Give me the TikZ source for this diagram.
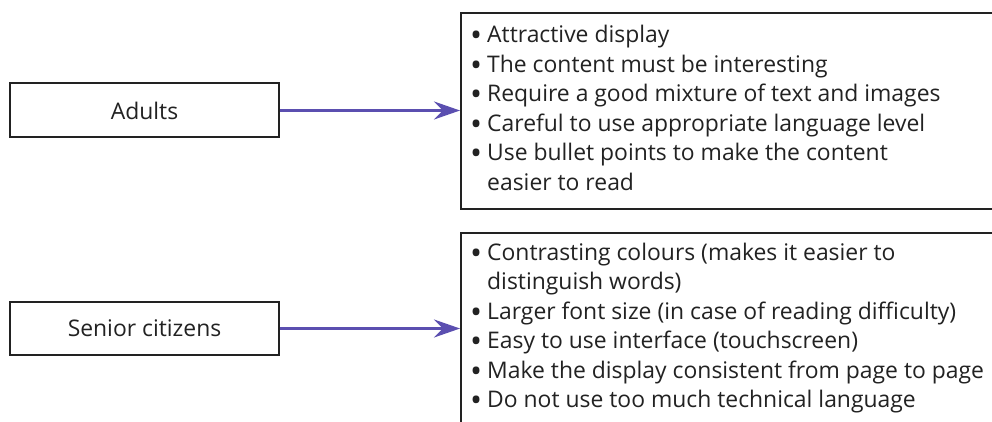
\documentclass[tikz,border=0pt]{standalone}
\usepackage{fontspec}
\setmainfont{Open Sans}
\usetikzlibrary{arrows.meta}
\definecolor{arr}{HTML}{5B4FB0}
\definecolor{ink}{HTML}{222222}
\newcommand{\bul}{\makebox[17pt][l]{\raisebox{-4pt}{\fontsize{32}{29.5}\selectfont\textbullet}}}
\begin{document}
\begin{tikzpicture}[x=1pt,y=-1pt,
  box/.style={draw=ink, line width=2pt, rectangle, inner sep=0pt},
  lbl/.style={font=\fontsize{22.9}{29.5}\selectfont, text=ink, inner sep=0pt},
  conn/.style={draw=arr, line width=2.5pt, -{Stealth[length=26pt, width=18pt, inset=9pt]}}]
\path[use as bounding box, clip] (0,0) rectangle (992,422);
\fill[white] (0,0) rectangle (992,422);
% left boxes
\node[box, minimum width=269pt, minimum height=54pt, lbl] (a) at (144.5,110.5) {Adults};
\node[box, minimum width=269pt, minimum height=53pt, lbl] (s) at (144.5,328.5) {Senior citizens};
% right boxes
\node[box, anchor=north west, minimum width=560pt, minimum height=196pt] (b1) at (460,12) {};
\node[box, anchor=north west, minimum width=560pt, minimum height=230pt] (b2) at (460,232) {};
% texts
\node[lbl, anchor=base west] (t1) at (470,43) {\begin{tabular}[t]{@{}l@{}l@{}}
\bul & Attractive display\\
\bul & The content must be interesting\\
\bul & Require a good mixture of text and images\\
\bul & Careful to use appropriate language level\\
\bul & Use bullet points to make the content\\
 & easier to read
\end{tabular}};
\node[lbl, anchor=base west] (t2) at (470,260) {\begin{tabular}[t]{@{}l@{}l@{}}
\bul & Contrasting colours (makes it easier to\\
 & distinguish words)\\
\bul & Larger font size (in case of reading difficulty)\\
\bul & Easy to use interface (touchscreen)\\
\bul & Make the display consistent from page to page\\
\bul & Do not use too much technical language
\end{tabular}};
% connectors
\draw[conn] (a.east) -- (a.east -| b1.west);
\draw[conn] (s.east) -- (s.east -| b2.west);
\end{tikzpicture}
\end{document}
